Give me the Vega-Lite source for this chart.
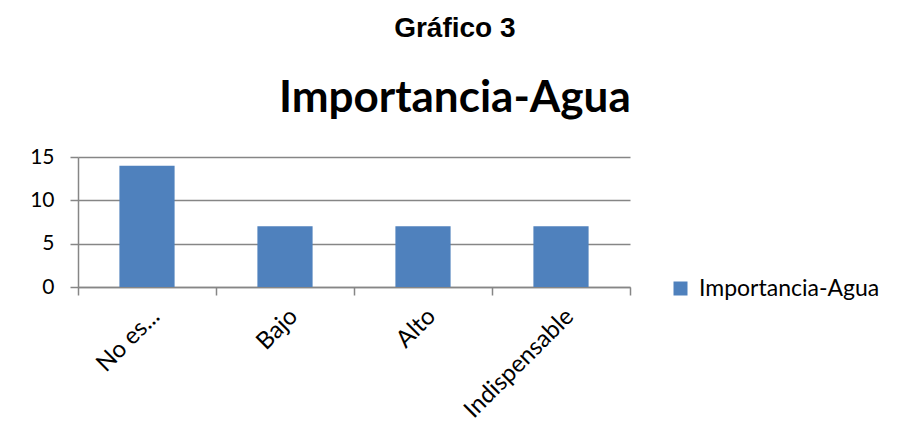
{
  "$schema": "https://vega.github.io/schema/vega-lite/v6.json",
  "autosize": {"type": "none"},
  "width": 552,
  "height": 130,
  "padding": {"left": 78, "top": 157, "right": 271, "bottom": 155},
  "background": "white",
  "title": {
    "text": "Gráfico 3",
    "subtitle": "Importancia-Agua",
    "font": "Liberation Sans",
    "fontSize": 28,
    "fontWeight": "bold",
    "color": "#000000",
    "subtitleFont": "Lato",
    "subtitleFontSize": 44,
    "subtitleFontWeight": "bold",
    "subtitleColor": "#000000",
    "subtitlePadding": 34,
    "anchor": "middle",
    "frame": "bounds",
    "offset": 25
  },
  "data": {
    "values": [
      {"nivel": "No es...", "frecuencia": 14, "serie": "Importancia-Agua"},
      {"nivel": "Bajo", "frecuencia": 7, "serie": "Importancia-Agua"},
      {"nivel": "Alto", "frecuencia": 7, "serie": "Importancia-Agua"},
      {"nivel": "Indispensable", "frecuencia": 7, "serie": "Importancia-Agua"}
    ]
  },
  "mark": {"type": "bar", "width": {"band": 0.4}},
  "encoding": {
    "x": {
      "field": "nivel",
      "type": "nominal",
      "sort": null,
      "scale": {"paddingInner": 0, "paddingOuter": 0},
      "axis": {
        "title": null,
        "labelAngle": -45,
        "labelAlign": "right",
        "labelBaseline": "top",
        "labelFont": "Lato",
        "labelFontSize": 24,
        "labelColor": "#000000",
        "domainColor": "#868686",
        "domainWidth": 1.5,
        "tickColor": "#868686",
        "tickWidth": 1.5,
        "tickSize": 8,
        "tickBand": "extent",
        "labelPadding": 9,
        "grid": false
      }
    },
    "y": {
      "field": "frecuencia",
      "type": "quantitative",
      "scale": {"domain": [0, 15]},
      "axis": {
        "title": null,
        "values": [0, 5, 10, 15],
        "labelFont": "Lato",
        "labelFontSize": 21,
        "labelColor": "#000000",
        "labelPadding": 16,
        "domain": true,
        "domainColor": "#868686",
        "domainWidth": 1.5,
        "tickColor": "#868686",
        "tickWidth": 1.5,
        "tickSize": 8,
        "grid": true,
        "gridColor": "#868686",
        "gridWidth": 1.5
      }
    },
    "color": {
      "field": "serie",
      "type": "nominal",
      "scale": {"range": ["#4F81BD"]},
      "legend": {
        "title": null,
        "orient": "none",
        "legendX": 591,
        "legendY": 120,
        "symbolType": "square",
        "symbolSize": 196,
        "symbolStrokeWidth": 0,
        "labelFont": "Lato",
        "labelFontSize": 23,
        "labelColor": "#000000",
        "labelOffset": 7,
        "labelLimit": 0
      }
    }
  },
  "config": {"view": {"stroke": null}}
}
